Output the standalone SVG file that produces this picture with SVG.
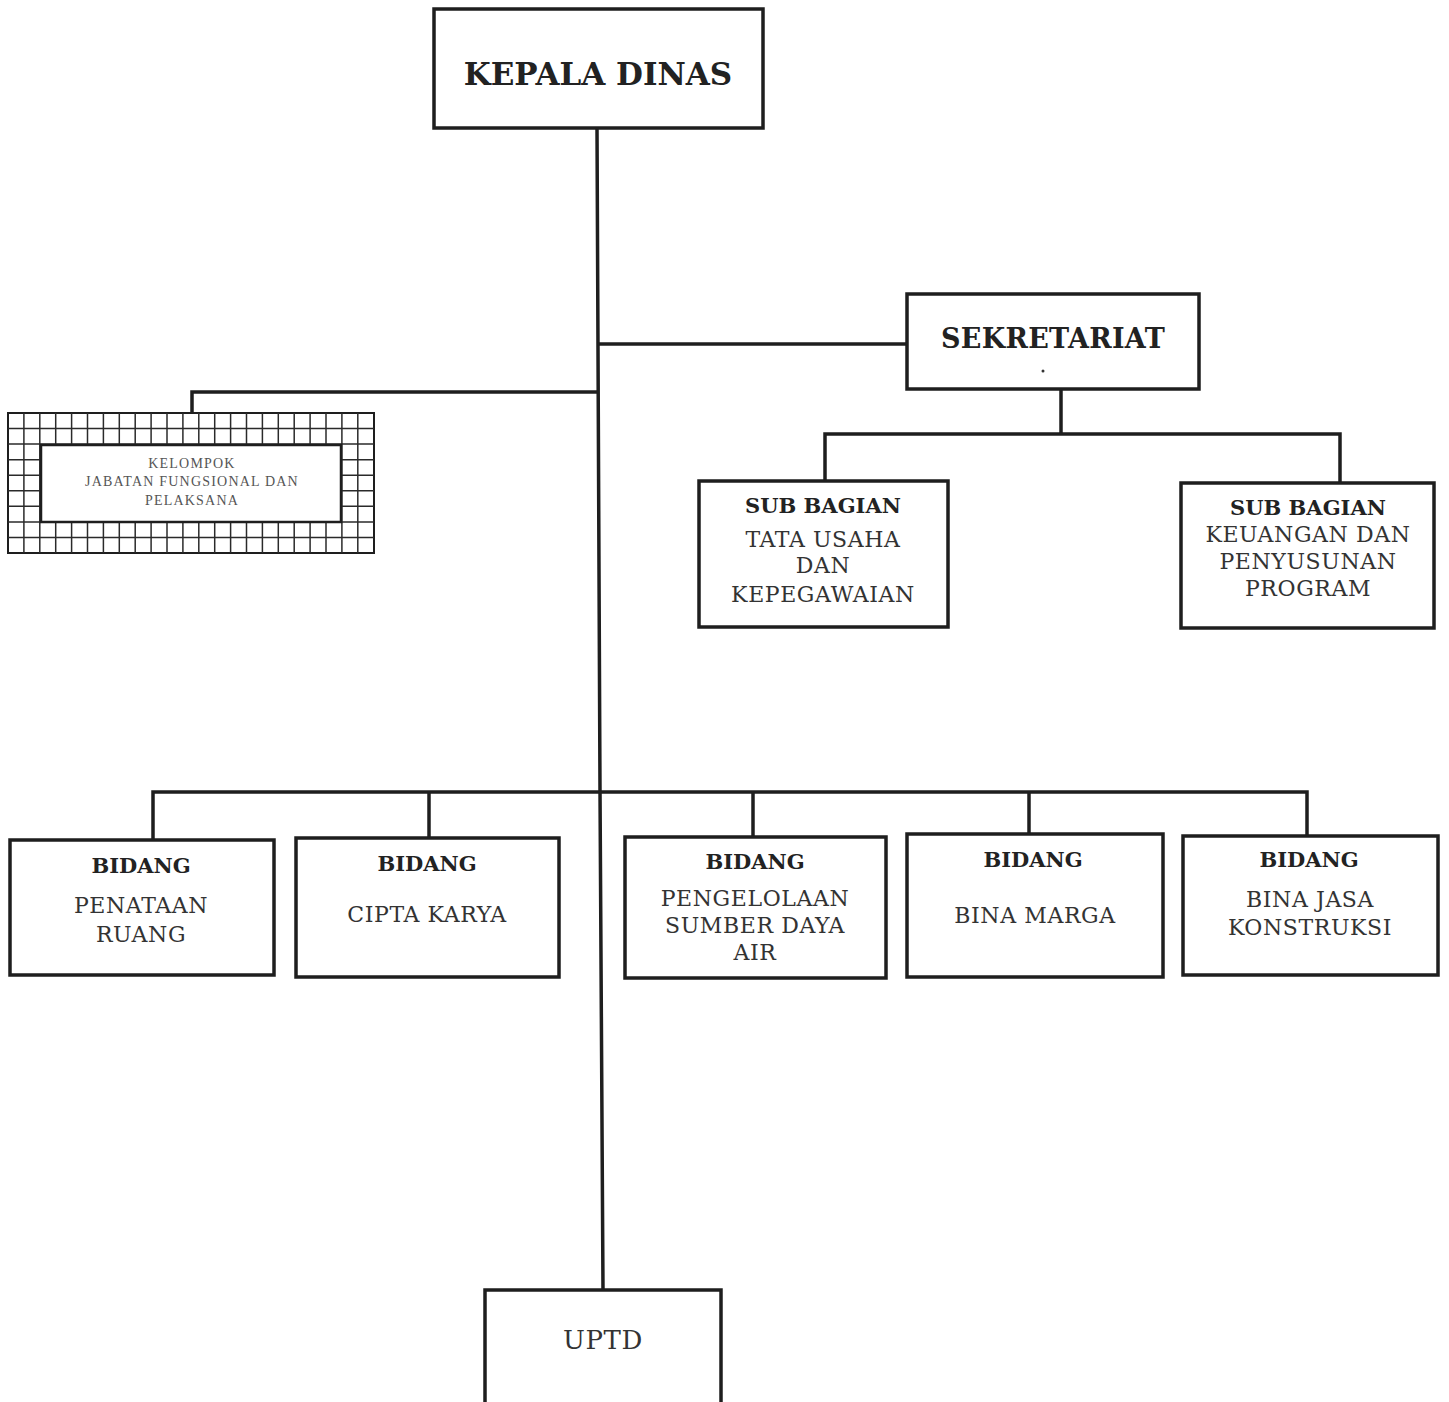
<svg xmlns="http://www.w3.org/2000/svg" width="1449" height="1402" viewBox="0 0 1449 1402">
<style>
.box{fill:#fff;stroke:#1e1e1e;stroke-width:3.5}
.ln{fill:none;stroke:#1e1e1e;stroke-width:3.5}
.grid{stroke:#2a2a2a;stroke-width:1.5}
.b{font-family:"DejaVu Serif","Liberation Serif",serif;font-weight:bold;fill:#222;text-anchor:middle}
.r{font-family:"DejaVu Serif","Liberation Serif",serif;fill:#333;text-anchor:middle;font-size:22px;letter-spacing:0.6px}
.s{font-family:"Liberation Serif",serif;fill:#555;text-anchor:middle;font-size:14px;letter-spacing:1.2px}
</style>
<rect width="1449" height="1402" fill="#fff"/>
<g id="connectors">
<polyline class="ln" points="597,128 600,790 603,1290"/>
<line class="ln" x1="597" y1="344" x2="907" y2="344"/>
<polyline class="ln" points="598,392 192,392 192,413"/>
<line class="ln" x1="1061" y1="389" x2="1061" y2="434"/>
<polyline class="ln" points="825,481 825,434 1340,434 1340,483"/>
<polyline class="ln" points="153,840 153,792 1307,792 1307,836"/>
<line class="ln" x1="429" y1="792" x2="429" y2="838"/>
<line class="ln" x1="753" y1="792" x2="753" y2="837"/>
<line class="ln" x1="1029" y1="792" x2="1029" y2="834"/>
</g>
<g id="kepala-dinas">
<rect class="box" x="434" y="9" width="329" height="119"/>
<text class="b" x="598" y="85" font-size="31">KEPALA DINAS</text>
</g>
<g id="sekretariat">
<rect class="box" x="907" y="294" width="292" height="95"/>
<text class="b" x="1053" y="348" font-size="27" letter-spacing="0.3">SEKRETARIAT</text>
<circle cx="1043" cy="371" r="1.5" fill="#333"/>
</g>
<g id="kelompok">
<rect x="8" y="413" width="366" height="140" fill="#fff" stroke="#1e1e1e" stroke-width="2"/>
<g class="grid">
<line x1="23.9" y1="413" x2="23.9" y2="553"/><line x1="39.8" y1="413" x2="39.8" y2="553"/><line x1="55.7" y1="413" x2="55.7" y2="553"/><line x1="71.6" y1="413" x2="71.6" y2="553"/><line x1="87.5" y1="413" x2="87.5" y2="553"/><line x1="103.4" y1="413" x2="103.4" y2="553"/><line x1="119.3" y1="413" x2="119.3" y2="553"/><line x1="135.2" y1="413" x2="135.2" y2="553"/><line x1="151.1" y1="413" x2="151.1" y2="553"/><line x1="167" y1="413" x2="167" y2="553"/><line x1="182.9" y1="413" x2="182.9" y2="553"/><line x1="198.8" y1="413" x2="198.8" y2="553"/><line x1="214.7" y1="413" x2="214.7" y2="553"/><line x1="230.6" y1="413" x2="230.6" y2="553"/><line x1="246.5" y1="413" x2="246.5" y2="553"/><line x1="262.4" y1="413" x2="262.4" y2="553"/><line x1="278.3" y1="413" x2="278.3" y2="553"/><line x1="294.2" y1="413" x2="294.2" y2="553"/><line x1="310.1" y1="413" x2="310.1" y2="553"/><line x1="326" y1="413" x2="326" y2="553"/><line x1="341.9" y1="413" x2="341.9" y2="553"/><line x1="357.8" y1="413" x2="357.8" y2="553"/>
<line x1="8" y1="428.6" x2="374" y2="428.6"/><line x1="8" y1="444.1" x2="374" y2="444.1"/><line x1="8" y1="459.7" x2="374" y2="459.7"/><line x1="8" y1="475.2" x2="374" y2="475.2"/><line x1="8" y1="490.8" x2="374" y2="490.8"/><line x1="8" y1="506.3" x2="374" y2="506.3"/><line x1="8" y1="521.9" x2="374" y2="521.9"/><line x1="8" y1="537.4" x2="374" y2="537.4"/>
</g>
<rect x="41" y="445" width="300" height="77" fill="#fff" stroke="#1e1e1e" stroke-width="2.5"/>
<text class="s" x="192" y="468">KELOMPOK</text>
<text class="s" x="192" y="486">JABATAN FUNGSIONAL DAN</text>
<text class="s" x="192" y="505">PELAKSANA</text>
</g>
<g id="sub-tata-usaha">
<rect class="box" x="699" y="481" width="249" height="146"/>
<text class="b" x="823" y="513" font-size="21">SUB BAGIAN</text>
<text class="r" x="823" y="547">TATA USAHA</text>
<text class="r" x="823" y="573">DAN</text>
<text class="r" x="823" y="602">KEPEGAWAIAN</text>
</g>
<g id="sub-keuangan">
<rect class="box" x="1181" y="483" width="253" height="145"/>
<text class="b" x="1308" y="515" font-size="21">SUB BAGIAN</text>
<text class="r" x="1308" y="542">KEUANGAN DAN</text>
<text class="r" x="1308" y="569">PENYUSUNAN</text>
<text class="r" x="1308" y="596">PROGRAM</text>
</g>
<g id="bidang-penataan-ruang">
<rect class="box" x="10" y="840" width="264" height="135"/>
<text class="b" x="141" y="873" font-size="21">BIDANG</text>
<text class="r" x="141" y="913">PENATAAN</text>
<text class="r" x="141" y="942">RUANG</text>
</g>
<g id="bidang-cipta-karya">
<rect class="box" x="296" y="838" width="263" height="139"/>
<text class="b" x="427" y="871" font-size="21">BIDANG</text>
<text class="r" x="427" y="922">CIPTA KARYA</text>
</g>
<g id="bidang-psda">
<rect class="box" x="625" y="837" width="261" height="141"/>
<text class="b" x="755" y="869" font-size="21">BIDANG</text>
<text class="r" x="755" y="906">PENGELOLAAN</text>
<text class="r" x="755" y="933">SUMBER DAYA</text>
<text class="r" x="755" y="960">AIR</text>
</g>
<g id="bidang-bina-marga">
<rect class="box" x="907" y="834" width="256" height="143"/>
<text class="b" x="1033" y="867" font-size="21">BIDANG</text>
<text class="r" x="1035" y="923">BINA MARGA</text>
</g>
<g id="bidang-bina-jasa">
<rect class="box" x="1183" y="836" width="255" height="139"/>
<text class="b" x="1309" y="867" font-size="21">BIDANG</text>
<text class="r" x="1310" y="907">BINA JASA</text>
<text class="r" x="1310" y="935">KONSTRUKSI</text>
</g>
<g id="uptd">
<rect class="box" x="485" y="1290" width="236" height="130"/>
<text class="r" x="603" y="1349" style="font-size:26px">UPTD</text>
</g>
</svg>
